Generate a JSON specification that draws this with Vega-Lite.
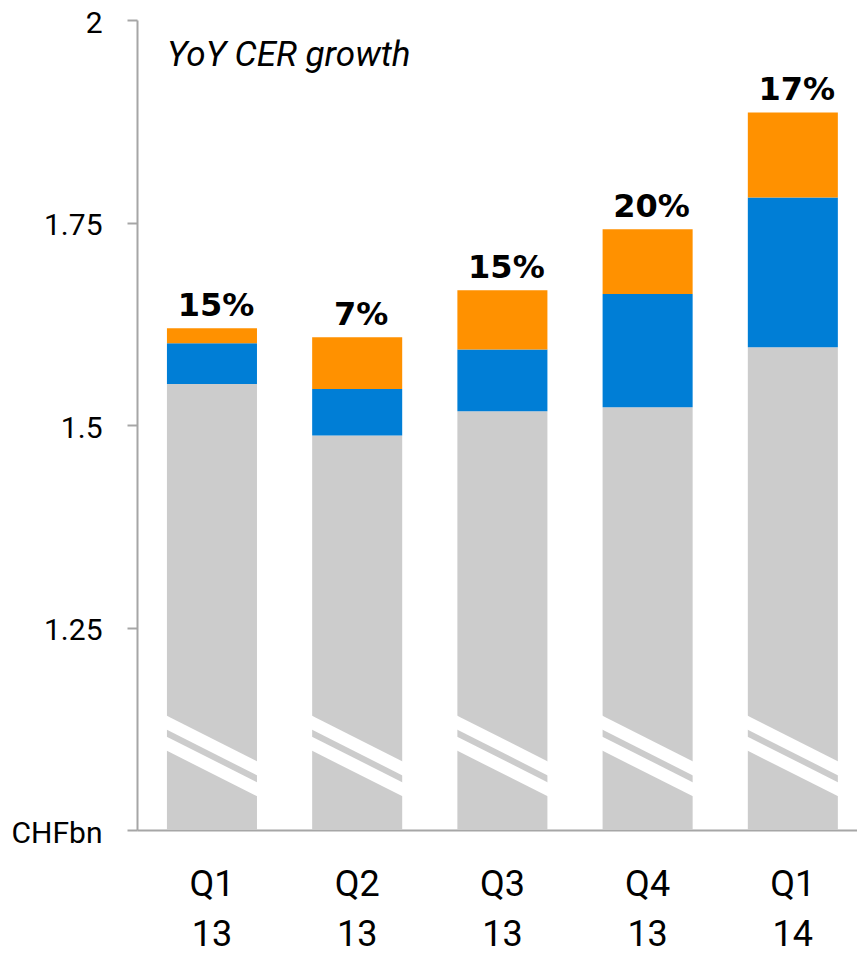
{
  "$schema": "https://vega.github.io/schema/vega-lite/v6.json",
  "width": 720,
  "height": 810,
  "autosize": {"type": "none"},
  "padding": {"left": 137, "top": 20, "right": 0, "bottom": 126},
  "background": "white",
  "config": {"view": {"stroke": null}},
  "title": {
    "text": "YoY CER growth",
    "anchor": "start",
    "frame": "group",
    "orient": "top",
    "offset": -93,
    "dx": 30,
    "font": "Roboto",
    "fontSize": 35,
    "fontStyle": "italic",
    "fontWeight": "normal",
    "color": "black",
    "baseline": "alphabetic"
  },
  "data": {
    "values": [
      {"q": "Q1 13", "segment": "Base", "value": 1.5506, "growth": "15%"},
      {"q": "Q1 13", "segment": "Segment 2", "value": 0.0503, "growth": "15%"},
      {"q": "Q1 13", "segment": "Segment 3", "value": 0.0185, "growth": "15%"},
      {"q": "Q2 13", "segment": "Base", "value": 1.4869, "growth": "7%"},
      {"q": "Q2 13", "segment": "Segment 2", "value": 0.0576, "growth": "7%"},
      {"q": "Q2 13", "segment": "Segment 3", "value": 0.0638, "growth": "7%"},
      {"q": "Q3 13", "segment": "Base", "value": 1.5169, "growth": "15%"},
      {"q": "Q3 13", "segment": "Segment 2", "value": 0.0762, "growth": "15%"},
      {"q": "Q3 13", "segment": "Segment 3", "value": 0.0733, "growth": "15%"},
      {"q": "Q4 13", "segment": "Base", "value": 1.5219, "growth": "20%"},
      {"q": "Q4 13", "segment": "Segment 2", "value": 0.1399, "growth": "20%"},
      {"q": "Q4 13", "segment": "Segment 3", "value": 0.0799, "growth": "20%"},
      {"q": "Q1 14", "segment": "Base", "value": 1.5960, "growth": "17%"},
      {"q": "Q1 14", "segment": "Segment 2", "value": 0.1849, "growth": "17%"},
      {"q": "Q1 14", "segment": "Segment 3", "value": 0.1050, "growth": "17%"}
    ]
  },
  "encoding": {
    "x": {
      "field": "q",
      "type": "nominal",
      "sort": null,
      "scale": {"paddingInner": 0.38, "paddingOuter": 0.169, "align": 0.61},
      "axis": {
        "title": null,
        "ticks": false,
        "labelAngle": 0,
        "labelExpr": "split(datum.label, ' ')",
        "labelFont": "Roboto",
        "labelFontSize": 36,
        "labelColor": "black",
        "labelLineHeight": 50,
        "labelBaseline": "top",
        "labelPadding": 37,
        "domainColor": "#A6A6A6",
        "domainWidth": 2
      }
    }
  },
  "layer": [
    {
      "mark": {"type": "bar", "clip": true},
      "encoding": {
        "y": {
          "field": "value",
          "type": "quantitative",
          "stack": "zero",
          "scale": {"domain": [1, 2], "nice": false, "zero": false},
          "axis": {
            "title": null,
            "grid": false,
            "values": [1, 1.25, 1.5, 1.75, 2],
            "labelExpr": "datum.value == 1 ? 'CHFbn' : toString(datum.value)",
            "labelFont": "Roboto",
            "labelFontSize": 30,
            "labelColor": "black",
            "labelPadding": 25,
            "labelOffset": 3,
            "tickSize": 10,
            "tickWidth": 2,
            "tickColor": "#A6A6A6",
            "domainColor": "#A6A6A6",
            "domainWidth": 2
          }
        },
        "color": {
          "field": "segment",
          "type": "nominal",
          "scale": {"domain": ["Base", "Segment 2", "Segment 3"], "range": ["#CCCCCC", "#007ED6", "#FF9100"]},
          "legend": null
        },
        "order": {"field": "segment", "sort": "ascending"}
      }
    },
    {
      "transform": [{"filter": "datum.segment == 'Base'"}],
      "mark": {"type": "rule", "color": "white", "strokeWidth": 12.5, "strokeCap": "square"},
      "encoding": {
        "x": {"field": "q", "type": "nominal", "sort": null, "bandPosition": 0},
        "x2": {"field": "q", "bandPosition": 1},
        "y": {"datum": 1.1324, "type": "quantitative"},
        "y2": {"datum": 1.0762}
      }
    },
    {
      "transform": [{"filter": "datum.segment == 'Base'"}],
      "mark": {"type": "rule", "color": "white", "strokeWidth": 12.5, "strokeCap": "square"},
      "encoding": {
        "x": {"field": "q", "type": "nominal", "sort": null, "bandPosition": 0},
        "x2": {"field": "q", "bandPosition": 1},
        "y": {"datum": 1.1064, "type": "quantitative"},
        "y2": {"datum": 1.0504}
      }
    },
    {
      "transform": [
        {"aggregate": [{"op": "sum", "field": "value", "as": "total"}], "groupby": ["q", "growth"]}
      ],
      "mark": {"type": "text", "font": "DejaVu Sans", "fontWeight": "bold", "fontSize": 32, "color": "black", "baseline": "alphabetic", "dy": -12, "dx": 4},
      "encoding": {
        "y": {"field": "total", "type": "quantitative"},
        "text": {"field": "growth"}
      }
    }
  ]
}
